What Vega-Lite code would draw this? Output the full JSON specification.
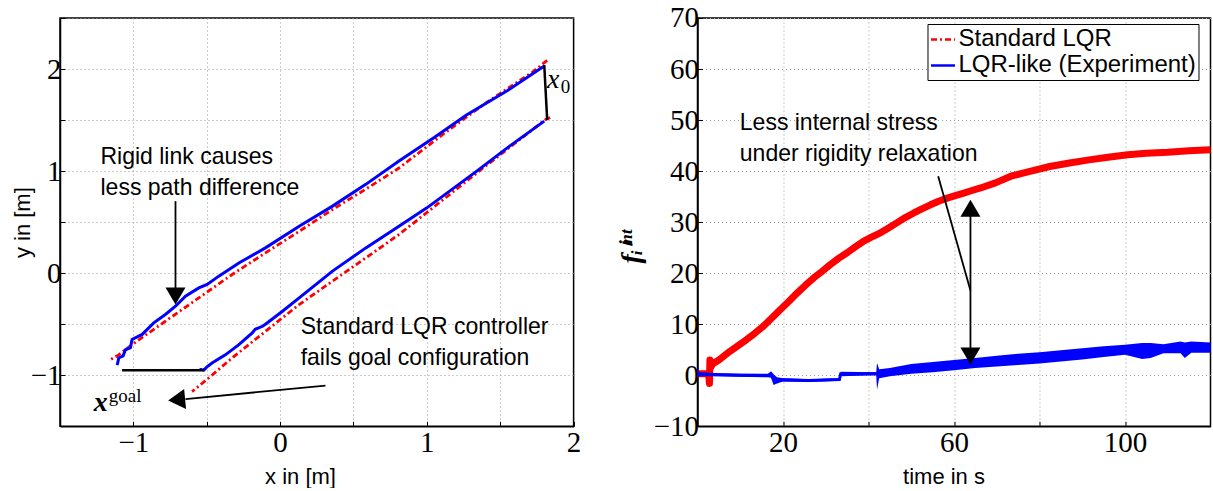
{
  "$schema": "https://vega.github.io/schema/vega-lite/v6.json",
  "background": "white",
  "padding": {"left": 10, "top": 3, "right": 0, "bottom": 0},
  "spacing": 33.5,
  "resolve": {"scale": {"color": "independent"}, "legend": {"color": "independent"}},
  "config": {
    "view": {"stroke": "#000", "strokeWidth": 1.5},
    "font": "Liberation Sans",
    "style": {"guide-label": {"fontSize": 29, "font": "Liberation Serif", "fill": "#000"}},
    "axis": {
      "domainColor": "#000", "domainWidth": 1.5,
      "tickColor": "#000", "tickWidth": 1, "tickSize": -5,
      "labelPadding": 7,
      "labelFont": "Liberation Serif", "labelFontSize": 29, "labelColor": "#000",
      "titleFont": "Liberation Sans", "titleFontSize": 22, "titleFontWeight": "normal", "titleColor": "#000",
      "gridColor": "#999", "gridDash": [1, 3], "gridWidth": 1,
      "labelFlush": false, "labelOverlap": false
    }
  },
  "datasets": {
    "traj": [
      {"s":"b","p":"ub","i":0,"x":1.80,"y":2.03},{"s":"b","p":"ub","i":1,"x":1.55,"y":1.79},{"s":"b","p":"ub","i":2,"x":1.27,"y":1.55},{"s":"b","p":"ub","i":3,"x":1.05,"y":1.33},{"s":"b","p":"ub","i":4,"x":0.81,"y":1.10},{"s":"b","p":"ub","i":5,"x":0.584,"y":0.87},{"s":"b","p":"ub","i":6,"x":0.357,"y":0.657},{"s":"b","p":"ub","i":7,"x":0.13,"y":0.46},{"s":"b","p":"ub","i":8,"x":-0.10,"y":0.248},{"s":"b","p":"ub","i":9,"x":-0.281,"y":0.10},{"s":"b","p":"ub","i":10,"x":-0.418,"y":-0.029},{"s":"b","p":"ub","i":11,"x":-0.497,"y":-0.111},{"s":"b","p":"ub","i":12,"x":-0.554,"y":-0.144},{"s":"b","p":"ub","i":13,"x":-0.645,"y":-0.226},{"s":"b","p":"ub","i":14,"x":-0.713,"y":-0.324},{"s":"b","p":"ub","i":15,"x":-0.782,"y":-0.405},{"s":"b","p":"ub","i":16,"x":-0.861,"y":-0.487},{"s":"b","p":"ub","i":17,"x":-0.94,"y":-0.60},{"s":"b","p":"ub","i":18,"x":-1.009,"y":-0.65},{"s":"b","p":"ub","i":19,"x":-1.02,"y":-0.73},{"s":"b","p":"ub","i":20,"x":-1.054,"y":-0.75},{"s":"b","p":"ub","i":21,"x":-1.07,"y":-0.81},{"s":"b","p":"ub","i":22,"x":-1.10,"y":-0.83},{"s":"b","p":"ub","i":23,"x":-1.105,"y":-0.87},{"s":"b","p":"ub","i":24,"x":-1.111,"y":-0.90},
      {"s":"b","p":"lb","i":0,"x":1.80,"y":1.49},{"s":"b","p":"lb","i":1,"x":1.55,"y":1.23},{"s":"b","p":"lb","i":2,"x":1.34,"y":1.00},{"s":"b","p":"lb","i":3,"x":1.0,"y":0.64},{"s":"b","p":"lb","i":4,"x":0.81,"y":0.46},{"s":"b","p":"lb","i":5,"x":0.584,"y":0.248},{"s":"b","p":"lb","i":6,"x":0.357,"y":0.02},{"s":"b","p":"lb","i":7,"x":0.13,"y":-0.242},{"s":"b","p":"lb","i":8,"x":0.016,"y":-0.373},{"s":"b","p":"lb","i":9,"x":-0.10,"y":-0.50},{"s":"b","p":"lb","i":10,"x":-0.12,"y":-0.52},{"s":"b","p":"lb","i":11,"x":-0.17,"y":-0.55},{"s":"b","p":"lb","i":12,"x":-0.19,"y":-0.585},{"s":"b","p":"lb","i":13,"x":-0.281,"y":-0.70},{"s":"b","p":"lb","i":14,"x":-0.373,"y":-0.80},{"s":"b","p":"lb","i":15,"x":-0.464,"y":-0.88},{"s":"b","p":"lb","i":16,"x":-0.50,"y":-0.92},{"s":"b","p":"lb","i":17,"x":-0.52,"y":-0.95},{"s":"b","p":"lb","i":18,"x":-0.55,"y":-0.94},
      {"s":"r","p":"ur","i":0,"x":1.82,"y":2.085},{"s":"r","p":"ur","i":1,"x":1.72,"y":1.97},{"s":"r","p":"ur","i":2,"x":1.41,"y":1.676},{"s":"r","p":"ur","i":3,"x":1.10,"y":1.35},{"s":"r","p":"ur","i":4,"x":0.81,"y":1.03},{"s":"r","p":"ur","i":5,"x":0.58,"y":0.82},{"s":"r","p":"ur","i":6,"x":0.357,"y":0.624},{"s":"r","p":"ur","i":7,"x":0.13,"y":0.41},{"s":"r","p":"ur","i":8,"x":-0.10,"y":0.199},{"s":"r","p":"ur","i":9,"x":-0.327,"y":-0.013},{"s":"r","p":"ur","i":10,"x":-0.554,"y":-0.242},{"s":"r","p":"ur","i":11,"x":-0.782,"y":-0.471},{"s":"r","p":"ur","i":12,"x":-1.009,"y":-0.70},{"s":"r","p":"ur","i":13,"x":-1.10,"y":-0.80},{"s":"r","p":"ur","i":14,"x":-1.16,"y":-0.85},
      {"s":"r","p":"lr","i":0,"x":1.84,"y":1.525},{"s":"r","p":"lr","i":1,"x":1.81,"y":1.507},{"s":"r","p":"lr","i":2,"x":1.41,"y":1.06},{"s":"r","p":"lr","i":3,"x":0.81,"y":0.379},{"s":"r","p":"lr","i":4,"x":0.584,"y":0.15},{"s":"r","p":"lr","i":5,"x":0.357,"y":-0.078},{"s":"r","p":"lr","i":6,"x":0.13,"y":-0.307},{"s":"r","p":"lr","i":7,"x":-0.10,"y":-0.57},{"s":"r","p":"lr","i":8,"x":-0.327,"y":-0.83},{"s":"r","p":"lr","i":9,"x":-0.486,"y":-1.026},{"s":"r","p":"lr","i":10,"x":-0.60,"y":-1.16},
      {"s":"k","p":"kt","i":0,"x":1.80,"y":2.04},{"s":"k","p":"kt","i":1,"x":1.82,"y":1.50},
      {"s":"k","p":"kb","i":0,"x":-1.077,"y":-0.951},{"s":"k","p":"kb","i":1,"x":-0.52,"y":-0.951}
    ],
    "arrL": [
      {"x":-0.713,"y":0.706,"x2":-0.713,"y2":-0.16},
      {"x":0.309,"y":-1.101,"x2":-0.645,"y2":-1.233}
    ],
    "headL": [
      {"x":-0.713,"y":-0.307,"a":0},
      {"x":-0.763,"y":-1.248,"a":84.6}
    ],
    "textL": [
      {"x":-1.224,"y":1.072,"txt":"Rigid link causes"},
      {"x":-1.224,"y":0.765,"txt":"less path difference"},
      {"x":0.14,"y":-0.595,"txt":"Standard LQR controller"},
      {"x":0.14,"y":-0.902,"txt":"fails goal configuration"}
    ],
    "red": [
      {"series":"Standard LQR","t":0,"v":0.3},{"series":"Standard LQR","t":2.6,"v":0.3},{"series":"Standard LQR","t":2.8,"v":-1.6},{"series":"Standard LQR","t":2.9,"v":3.0},{"series":"Standard LQR","t":3.1,"v":1.5},{"series":"Standard LQR","t":3.5,"v":2.2},{"series":"Standard LQR","t":5,"v":3.0},{"series":"Standard LQR","t":7.6,"v":4.7},{"series":"Standard LQR","t":9.5,"v":5.8},{"series":"Standard LQR","t":11.5,"v":7.0},{"series":"Standard LQR","t":13.5,"v":8.3},{"series":"Standard LQR","t":15.4,"v":9.6},{"series":"Standard LQR","t":17.5,"v":11.3},{"series":"Standard LQR","t":19.4,"v":12.9},{"series":"Standard LQR","t":21.4,"v":14.5},{"series":"Standard LQR","t":23.3,"v":16.1},{"series":"Standard LQR","t":25.2,"v":17.6},{"series":"Standard LQR","t":27.2,"v":19.1},{"series":"Standard LQR","t":29.2,"v":20.4},{"series":"Standard LQR","t":31.1,"v":21.7},{"series":"Standard LQR","t":33,"v":22.9},{"series":"Standard LQR","t":35,"v":24.0},{"series":"Standard LQR","t":37,"v":25.2},{"series":"Standard LQR","t":38.9,"v":26.3},{"series":"Standard LQR","t":40.8,"v":27.1},{"series":"Standard LQR","t":42.8,"v":27.9},{"series":"Standard LQR","t":44.8,"v":28.9},{"series":"Standard LQR","t":46.7,"v":29.9},{"series":"Standard LQR","t":48.6,"v":30.9},{"series":"Standard LQR","t":50.6,"v":31.8},{"series":"Standard LQR","t":52.5,"v":32.6},{"series":"Standard LQR","t":54.5,"v":33.4},{"series":"Standard LQR","t":56.4,"v":34.1},{"series":"Standard LQR","t":58.4,"v":34.7},{"series":"Standard LQR","t":60.3,"v":35.2},{"series":"Standard LQR","t":62.3,"v":35.7},{"series":"Standard LQR","t":64.2,"v":36.2},{"series":"Standard LQR","t":66.2,"v":36.7},{"series":"Standard LQR","t":69.7,"v":37.7},{"series":"Standard LQR","t":73.3,"v":39.0},{"series":"Standard LQR","t":78,"v":40.0},{"series":"Standard LQR","t":82.4,"v":40.9},{"series":"Standard LQR","t":87,"v":41.6},{"series":"Standard LQR","t":91.6,"v":42.2},{"series":"Standard LQR","t":96,"v":42.7},{"series":"Standard LQR","t":100.7,"v":43.2},{"series":"Standard LQR","t":105,"v":43.5},{"series":"Standard LQR","t":110,"v":43.7},{"series":"Standard LQR","t":115,"v":44.0},{"series":"Standard LQR","t":120,"v":44.2}
    ],
    "blue": [
      {"series":"LQR-like (Experiment)","t":0,"lo":-0.5,"hi":1.7,"mid":0.3},
      {"series":"LQR-like (Experiment)","t":0.4,"lo":-0.2,"hi":0.6,"mid":0.2},
      {"series":"LQR-like (Experiment)","t":5,"lo":-0.2,"hi":0.4,"mid":0.1},
      {"series":"LQR-like (Experiment)","t":10,"lo":-0.3,"hi":0.3,"mid":0.0},
      {"series":"LQR-like (Experiment)","t":16.5,"lo":-0.4,"hi":0.3,"mid":-0.05},
      {"series":"LQR-like (Experiment)","t":17.2,"lo":-0.5,"hi":0.8,"mid":0.1},
      {"series":"LQR-like (Experiment)","t":17.8,"lo":-1.9,"hi":0.2,"mid":-0.8},
      {"series":"LQR-like (Experiment)","t":18.6,"lo":-1.6,"hi":-0.4,"mid":-1.0},
      {"series":"LQR-like (Experiment)","t":20,"lo":-1.2,"hi":-0.6,"mid":-0.9},
      {"series":"LQR-like (Experiment)","t":26,"lo":-1.3,"hi":-0.8,"mid":-1.05},
      {"series":"LQR-like (Experiment)","t":33.2,"lo":-1.1,"hi":-0.6,"mid":-0.85},
      {"series":"LQR-like (Experiment)","t":33.5,"lo":-0.2,"hi":0.7,"mid":0.3},
      {"series":"LQR-like (Experiment)","t":41.8,"lo":0.0,"hi":0.6,"mid":0.3},
      {"series":"LQR-like (Experiment)","t":42.0,"lo":-2.8,"hi":2.4,"mid":0.3},
      {"series":"LQR-like (Experiment)","t":42.5,"lo":-0.6,"hi":1.2,"mid":0.3},
      {"series":"LQR-like (Experiment)","t":45,"lo":-0.2,"hi":1.4,"mid":0.6},
      {"series":"LQR-like (Experiment)","t":50,"lo":0.3,"hi":2.2,"mid":1.2},
      {"series":"LQR-like (Experiment)","t":55,"lo":0.6,"hi":2.6,"mid":1.6},
      {"series":"LQR-like (Experiment)","t":60,"lo":1.0,"hi":3.0,"mid":2.0},
      {"series":"LQR-like (Experiment)","t":65,"lo":1.4,"hi":3.4,"mid":2.4},
      {"series":"LQR-like (Experiment)","t":70,"lo":1.7,"hi":3.8,"mid":2.7},
      {"series":"LQR-like (Experiment)","t":75,"lo":2.0,"hi":4.2,"mid":3.1},
      {"series":"LQR-like (Experiment)","t":80,"lo":2.3,"hi":4.5,"mid":3.4},
      {"series":"LQR-like (Experiment)","t":85,"lo":2.7,"hi":4.9,"mid":3.8},
      {"series":"LQR-like (Experiment)","t":90,"lo":3.1,"hi":5.3,"mid":4.2},
      {"series":"LQR-like (Experiment)","t":95,"lo":3.6,"hi":5.7,"mid":4.6},
      {"series":"LQR-like (Experiment)","t":100,"lo":4.0,"hi":6.0,"mid":5.0},
      {"series":"LQR-like (Experiment)","t":104,"lo":3.2,"hi":6.3,"mid":4.8},
      {"series":"LQR-like (Experiment)","t":106,"lo":3.4,"hi":6.3,"mid":4.9},
      {"series":"LQR-like (Experiment)","t":109,"lo":4.3,"hi":6.1,"mid":5.2},
      {"series":"LQR-like (Experiment)","t":113,"lo":4.3,"hi":6.6,"mid":5.4},
      {"series":"LQR-like (Experiment)","t":114,"lo":3.4,"hi":6.4,"mid":5.0},
      {"series":"LQR-like (Experiment)","t":115.5,"lo":4.4,"hi":6.6,"mid":5.5},
      {"series":"LQR-like (Experiment)","t":120,"lo":4.4,"hi":6.4,"mid":5.5}
    ],
    "arrR": [
      {"t":56.3,"v":39.0,"t2":63.85,"v2":16.6},
      {"t":63.85,"v":31.2,"t2":63.85,"v2":5.36}
    ],
    "headR": [
      {"t":63.85,"v":34.4,"a":180},
      {"t":63.85,"v":2.1,"a":0}
    ],
    "textR": [
      {"t":9.9,"v":48.1,"txt":"Less internal stress"},
      {"t":9.9,"v":41.9,"txt":"under rigidity relaxation"}
    ]
  },
  "hconcat": [
    {
      "width": 513.6,
      "height": 408.3,
      "layer": [
        {
          "data": {"name": "traj"},
          "transform": [{"filter": "datum.s === 'r'"}],
          "mark": {"type": "line", "color": "#ff0000", "strokeWidth": 2.8, "strokeDash": [6, 3, 2, 3]},
          "encoding": {
            "x": {"field": "x", "type": "quantitative", "scale": {"domain": [-1.5, 2], "nice": false, "zero": false},
                  "axis": {"title": "x in [m]", "titlePadding": 9, "titleX": 240, "labelFontSize": 29, "values": [-1.5, -1, -0.5, 0, 0.5, 1, 1.5, 2], "labelExpr": "datum.value % 1 === 0 ? format(datum.value, 'd') : ''"}},
            "y": {"field": "y", "type": "quantitative", "scale": {"domain": [-1.5, 2.5], "nice": false, "zero": false},
                  "axis": {"title": "y in [m]", "labelFontSize": 29, "labelPadding": 4, "titlePadding": -4, "values": [-1.5, -1, -0.5, 0, 0.5, 1, 1.5, 2, 2.5], "labelExpr": "datum.value % 1 === 0 ? format(datum.value, 'd') : ''"}},
            "detail": {"field": "p"},
            "order": {"field": "i", "type": "quantitative"}
          }
        },
        {
          "data": {"name": "traj"},
          "transform": [{"filter": "datum.s === 'b'"}],
          "mark": {"type": "line", "color": "#0000ff", "strokeWidth": 3},
          "encoding": {
            "x": {"field": "x", "type": "quantitative"},
            "y": {"field": "y", "type": "quantitative"},
            "detail": {"field": "p"},
            "order": {"field": "i", "type": "quantitative"}
          }
        },
        {
          "data": {"name": "traj"},
          "transform": [{"filter": "datum.s === 'k'"}],
          "mark": {"type": "line", "color": "#000000", "strokeWidth": 2.5},
          "encoding": {
            "x": {"field": "x", "type": "quantitative"},
            "y": {"field": "y", "type": "quantitative"},
            "detail": {"field": "p"},
            "order": {"field": "i", "type": "quantitative"}
          }
        },
        {
          "data": {"name": "arrL"},
          "mark": {"type": "rule", "color": "#000", "strokeWidth": 1.8},
          "encoding": {
            "x": {"field": "x", "type": "quantitative"},
            "y": {"field": "y", "type": "quantitative"},
            "x2": {"field": "x2"},
            "y2": {"field": "y2"}
          }
        },
        {
          "data": {"name": "headL"},
          "mark": {"type": "point", "shape": "M0,0L-1,-1.7L1,-1.7Z", "filled": true, "color": "#000", "opacity": 1, "size": 400, "strokeWidth": 0},
          "encoding": {
            "x": {"field": "x", "type": "quantitative"},
            "y": {"field": "y", "type": "quantitative"},
            "angle": {"field": "a", "type": "quantitative", "scale": null}
          }
        },
        {
          "data": {"name": "textL"},
          "mark": {"type": "text", "font": "Liberation Sans", "fontSize": 23, "align": "left", "baseline": "alphabetic", "color": "#000"},
          "encoding": {
            "x": {"field": "x", "type": "quantitative"},
            "y": {"field": "y", "type": "quantitative"},
            "text": {"field": "txt"}
          }
        },
        {
          "data": {"values": [{"x": -1.27, "y": -1.353, "txt": "x"}]},
          "mark": {"type": "text", "font": "Liberation Serif", "fontSize": 28, "fontStyle": "italic", "fontWeight": "bold", "align": "left", "baseline": "alphabetic", "color": "#000"},
          "encoding": {
            "x": {"field": "x", "type": "quantitative"},
            "y": {"field": "y", "type": "quantitative"},
            "text": {"field": "txt"}
          }
        },
        {
          "data": {"values": [{"x": -1.167, "y": -1.265, "txt": "goal"}, {"x": 1.913, "y": 1.765, "txt": "0"}]},
          "mark": {"type": "text", "font": "Liberation Serif", "fontSize": 19, "align": "left", "baseline": "alphabetic", "color": "#000"},
          "encoding": {
            "x": {"field": "x", "type": "quantitative"},
            "y": {"field": "y", "type": "quantitative"},
            "text": {"field": "txt"}
          }
        },
        {
          "data": {"values": [{"x": 1.818, "y": 1.814, "txt": "x"}]},
          "mark": {"type": "text", "font": "Liberation Serif", "fontSize": 28, "fontStyle": "italic", "align": "left", "baseline": "alphabetic", "color": "#000"},
          "encoding": {
            "x": {"field": "x", "type": "quantitative"},
            "y": {"field": "y", "type": "quantitative"},
            "text": {"field": "txt"}
          }
        }
      ]
    },
    {
      "width": 513,
      "height": 408.3,
      "layer": [
        {
          "data": {"name": "red"},
          "mark": {"type": "line", "strokeWidth": 7, "strokeJoin": "round"},
          "encoding": {
            "x": {"field": "t", "type": "quantitative", "scale": {"domain": [0, 120], "nice": false, "zero": false},
                  "axis": {"title": "time in s", "titlePadding": 9, "titleX": 246, "labelFontSize": 29, "values": [20, 40, 60, 80, 100], "labelExpr": "datum.value === 40 || datum.value === 80 ? '' : datum.label"}},
            "y": {"field": "v", "type": "quantitative", "scale": {"domain": [-10, 70], "nice": false, "zero": false},
                  "axis": {"title": "fᵢⁱⁿᵗ", "titleFont": "Liberation Serif", "titleFontStyle": "italic", "titleFontWeight": "bold", "titleFontSize": 28, "titlePadding": 8, "titleY": 228,
                           "labelFontSize": 29, "labelPadding": 4, "values": [-10, 0, 10, 20, 30, 40, 50, 60, 70]}},
            "color": {"field": "series", "type": "nominal",
                      "scale": {"domain": ["Standard LQR", "LQR-like (Experiment)"], "range": ["#ff0000", "#0000ff"]},
                      "legend": {"title": null, "orient": "none", "legendX": 230, "legendY": 6,
                                 "fillColor": "white", "strokeColor": "black", "padding": 2,
                                 "labelFont": "Liberation Sans", "labelFontSize": 24, "labelColor": "#000", "labelLimit": 400, "labelOffset": 2,
                                 "symbolType": "stroke", "symbolSize": 576, "symbolStrokeWidth": 2.5, "rowPadding": -6,
                                 "encode": {"symbols": {"update": {"strokeWidth": {"value": 2.5}, "strokeDash": {"signal": "datum.value === 'Standard LQR' ? [6, 3, 2, 3] : [1, 0]"}}}}}}
          }
        },
        {
          "data": {"name": "blue"},
          "mark": {"type": "area", "color": "#0000ff", "opacity": 1},
          "encoding": {
            "x": {"field": "t", "type": "quantitative"},
            "y": {"field": "lo", "type": "quantitative"},
            "y2": {"field": "hi"}
          }
        },
        {
          "data": {"name": "blue"},
          "mark": {"type": "line", "strokeWidth": 3},
          "encoding": {
            "x": {"field": "t", "type": "quantitative"},
            "y": {"field": "mid", "type": "quantitative"},
            "color": {"field": "series", "type": "nominal"}
          }
        },
        {
          "data": {"name": "arrR"},
          "mark": {"type": "rule", "color": "#000", "strokeWidth": 1.8},
          "encoding": {
            "x": {"field": "t", "type": "quantitative"},
            "y": {"field": "v", "type": "quantitative"},
            "x2": {"field": "t2"},
            "y2": {"field": "v2"}
          }
        },
        {
          "data": {"name": "headR"},
          "mark": {"type": "point", "shape": "M0,0L-1,-1.7L1,-1.7Z", "filled": true, "color": "#000", "opacity": 1, "size": 400, "strokeWidth": 0},
          "encoding": {
            "x": {"field": "t", "type": "quantitative"},
            "y": {"field": "v", "type": "quantitative"},
            "angle": {"field": "a", "type": "quantitative", "scale": null}
          }
        },
        {
          "data": {"name": "textR"},
          "mark": {"type": "text", "font": "Liberation Sans", "fontSize": 23, "align": "left", "baseline": "alphabetic", "color": "#000"},
          "encoding": {
            "x": {"field": "t", "type": "quantitative"},
            "y": {"field": "v", "type": "quantitative"},
            "text": {"field": "txt"}
          }
        }
      ]
    }
  ]
}
